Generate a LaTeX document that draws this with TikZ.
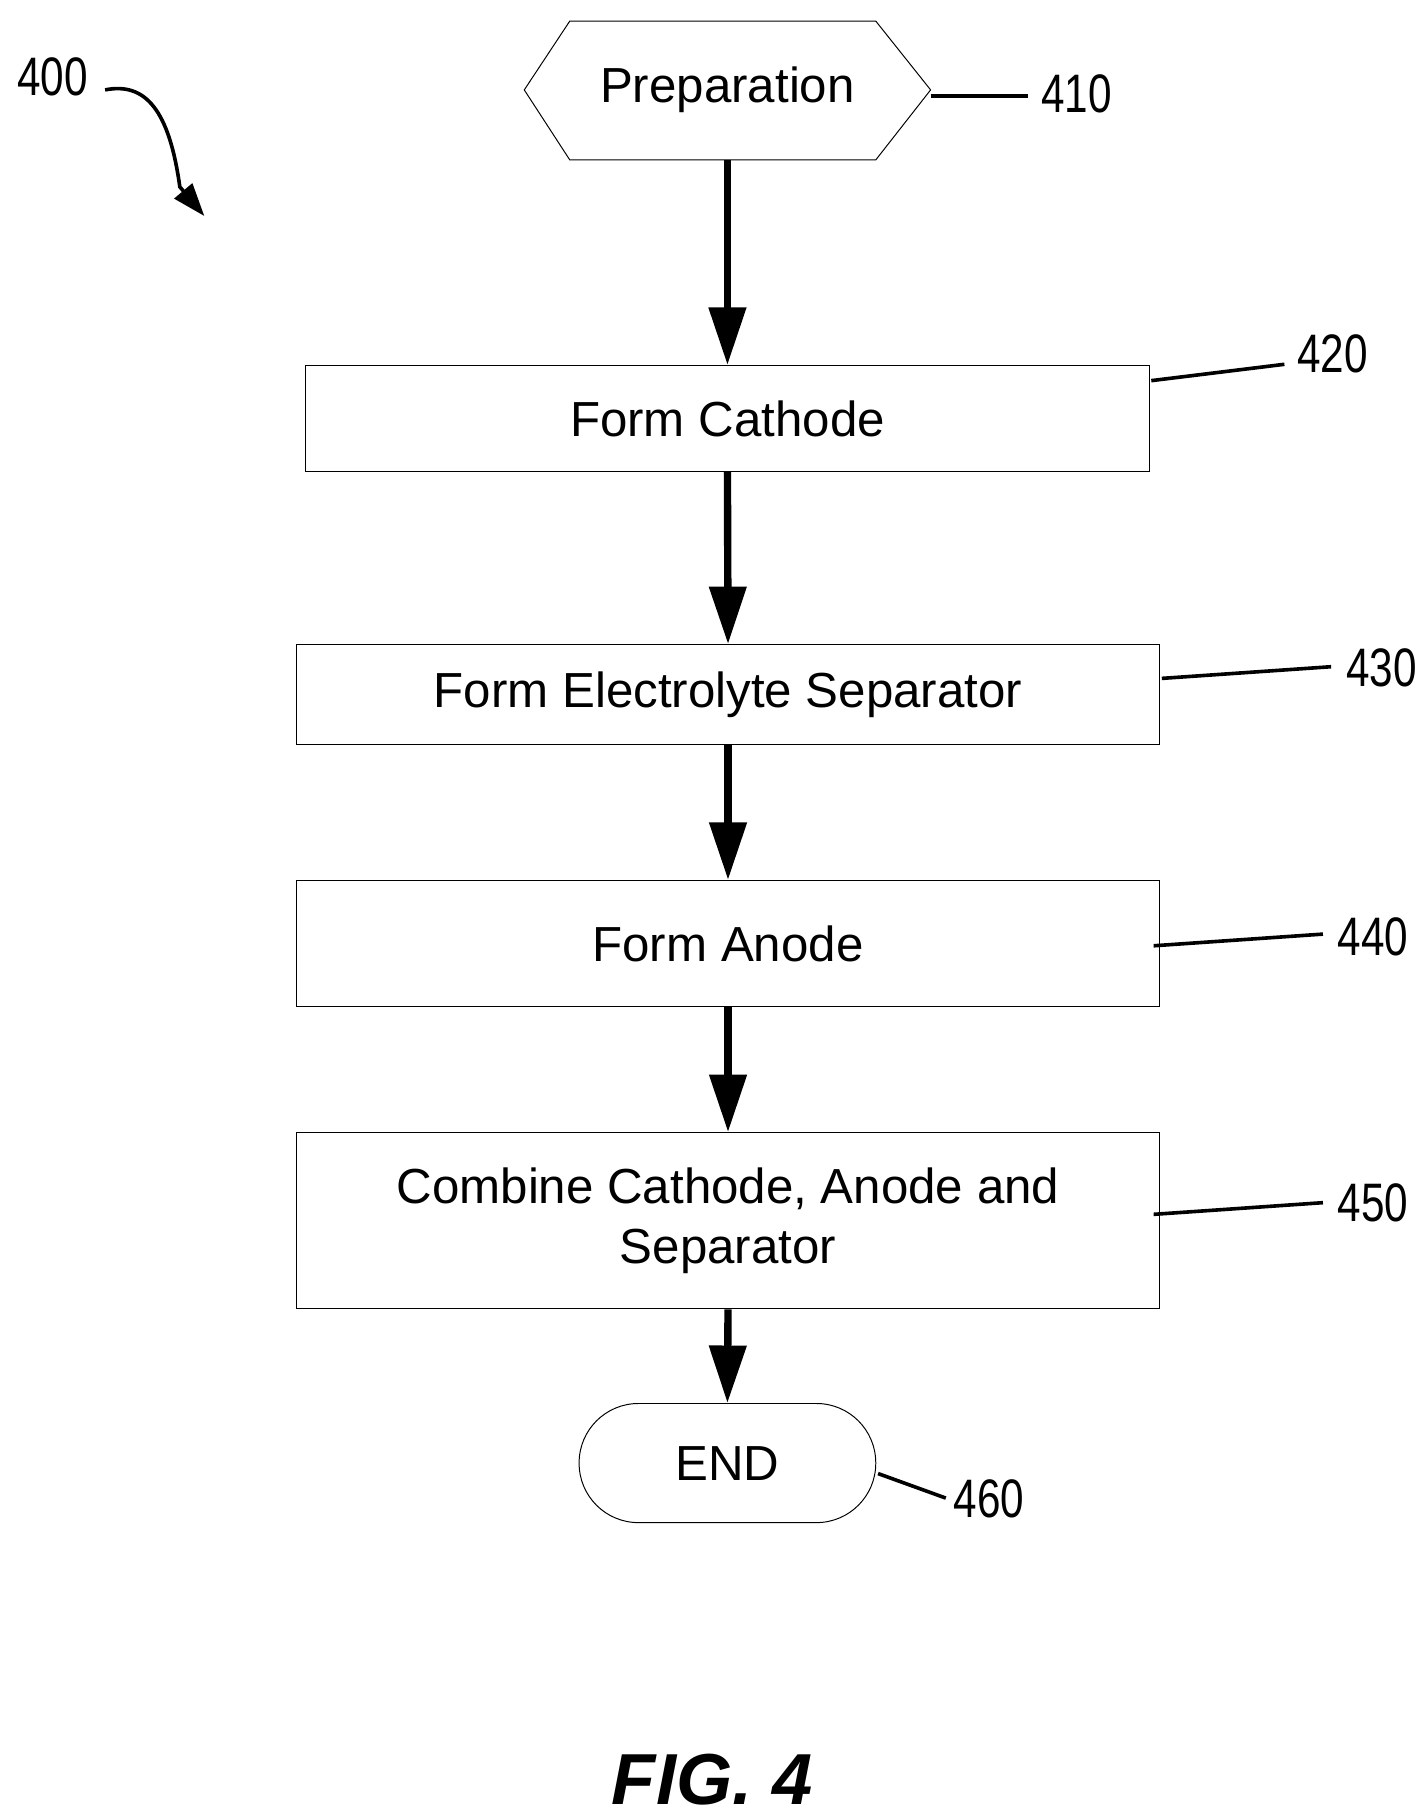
\documentclass[tikz,border=0pt]{standalone}
\usepackage{fontspec}
\setmainfont{Liberation Sans}
\newfontfamily\narrowf[FakeStretch=0.78]{Liberation Sans}
\usetikzlibrary{shapes.geometric,arrows.meta,calc}
\begin{document}
\begin{tikzpicture}[x=0.025cm,y=-0.025cm,
  box/.style={draw,line width=0.6pt,inner sep=0pt,font=\fontsize{30}{37}\selectfont},
  flow/.style={line width=4.5pt,-{Triangle[length=35pt,width=22pt]}},
  lead/.style={line width=2.2pt},
  num/.style={font=\narrowf\fontsize{33}{36}\selectfont,inner sep=0pt}]
\useasboundingbox (0,0) rectangle (1220,1557);
\draw[line width=0.6pt] (449,77)--(488,18)--(750,18)--(797,77)--(750,137)--(488,137)--cycle;
\node[inner sep=0,font=\fontsize{30}{36}\selectfont] (p) at (623,77) {Preparation};
\coordinate (pb) at (623,137); \coordinate (pr) at (797,82);
\node[box,minimum width=18.05cm,minimum height=2.275cm] (b420) at (623,358.5) {Form Cathode};
\node[box,minimum width=18.475cm,minimum height=2.15cm] (b430) at (623.5,595) {Form Electrolyte Separator};
\node[box,minimum width=18.475cm,minimum height=2.7cm] (b440) at (623.5,808) {Form Anode};
\node[box,minimum width=18.475cm,minimum height=3.775cm,align=center] (b450) at (623.5,1045.5) {Combine Cathode, Anode and\\Separator};
\node[box,rounded corners=1.27cm,minimum width=6.35cm,minimum height=2.55cm] (end) at (623,1253) {END};
\draw[flow] (pb)--(b420.north);
\draw[flow] (b420.south)--(b430.north);
\draw[flow] (b430.south)--(b440.north);
\draw[flow] (b440.south)--(b450.north);
\draw[flow] (b450.south)--(end.north);
\node[num] (n410) at (922,80) {410};
\node[num] (n420) at (1141,303) {420};
\node[num] (n430) at (1183,572) {430};
\node[num] (n440) at (1176,802) {440};
\node[num] (n450) at (1176,1030) {450};
\node[num] (n460) at (847,1284) {460};
\node[num] (n400) at (45,66) {400};
\coordinate (e410) at (880,82);
\coordinate (s420) at (986,326); \coordinate (e420) at (1100,312);
\coordinate (s430) at (995,581); \coordinate (e430) at (1140,571);
\coordinate (s440) at (988,810); \coordinate (e440) at (1133,800);
\coordinate (s450) at (988,1040); \coordinate (e450) at (1133,1030);
\coordinate (s460) at (752,1262); \coordinate (e460) at (810,1283);
\draw[lead] (pr)--(e410);
\draw[lead] (s420)--(e420);
\draw[lead] (s430)--(e430);
\draw[lead] (s440)--(e440);
\draw[lead] (s450)--(e450);
\draw[lead] (s460)--(e460);
\coordinate (a400s) at (90,77);
\coordinate (a400) at (175,185);
\draw[line width=2.2pt,-{Triangle[length=20pt,width=14pt]}] (a400s) .. controls (125,70) and (145,95) .. (154,160) -- (a400);
\node[font=\bfseries\itshape\fontsize{44}{48}\selectfont,inner sep=0] (fig) at (610,1524) {FIG. 4};
\end{tikzpicture}
\end{document}
